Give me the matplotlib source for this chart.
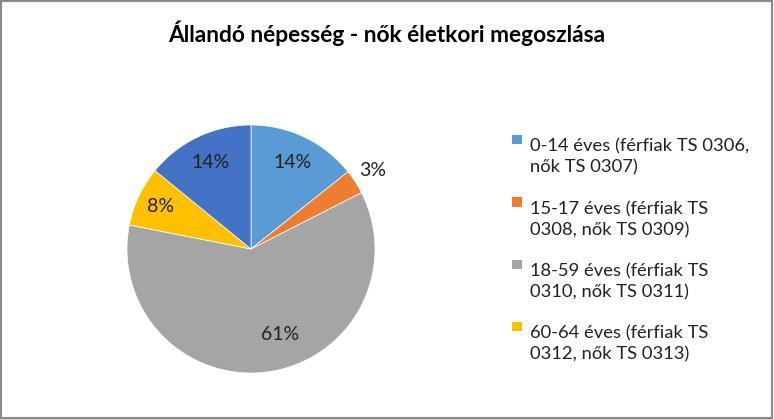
import numpy as np
import matplotlib.pyplot as plt
from matplotlib.patches import Rectangle

plt.rcParams['font.family'] = ['Lato', 'DejaVu Sans']

# data (percent shares)
shares = [14.3, 3.2, 60.6, 7.8, 14.1]
pct_labels = ['14%', '3%', '61%', '8%', '14%']
colors = ['#5B9BD5', '#ED7D31', '#A5A5A5', '#FFC000', '#4472C4']
legend_labels = [
    '0-14 éves (férfiak TS 0306,\nnők TS 0307)',
    '15-17 éves (férfiak TS\n0308, nők TS 0309)',
    '18-59 éves (férfiak TS\n0310, nők TS 0311)',
    '60-64 éves (férfiak TS\n0312, nők TS 0313)',
]
title = 'Állandó népesség - nők életkori megoszlása'

W, H = 774, 419
fig = plt.figure(figsize=(W / 100, H / 100), dpi=100)

# gray outer border
fig.patches.append(Rectangle((0.001, 0.002), 0.997, 0.996, transform=fig.transFigure,
                             fill=False, edgecolor='#898989', linewidth=1.5))

fig.text(387 / W, 1 - 33 / H, title, ha='center', va='center',
         fontsize=16.4, fontweight='bold', color='black')

ax = fig.add_axes([127 / W, 1 - 373 / H, 248 / W, 248 / H])
wedges, _ = ax.pie(shares, colors=colors, startangle=90, counterclock=False,
                   radius=1, wedgeprops=dict(edgecolor='white', linewidth=0.5))
ax.set_xlim(-1, 1)
ax.set_ylim(-1, 1)
ax.set_aspect('equal')
ax.axis('off')

# percentage labels (Excel "best fit" placement)
dists = [0.77, 1.17, 0.73, 0.81, 0.77]
shifts = [0, 0, 11, 0, 0]
for w, lab, d, s in zip(wedges, pct_labels, dists, shifts):
    ang = np.deg2rad((w.theta1 + w.theta2) / 2 + s)
    ax.text(d * np.cos(ang), d * np.sin(ang), lab, ha='center', va='center',
            fontsize=14, color='#222222')

# legend drawn by hand: square key next to the first line of each entry
for i, (lab, c) in enumerate(zip(legend_labels, colors)):
    y1 = 145 + 62.3 * i
    fig.patches.append(Rectangle((512 / W, 1 - (y1 - 0.5) / H), 9.5 / W, 9.5 / H,
                                 transform=fig.transFigure, facecolor=c, edgecolor='none'))
    fig.text(530 / W, 1 - (y1 + 12.2) / H, lab, ha='left', va='center',
             fontsize=13.2, linespacing=1.38, color='#222222')

fig.savefig('out.png', dpi=100)
